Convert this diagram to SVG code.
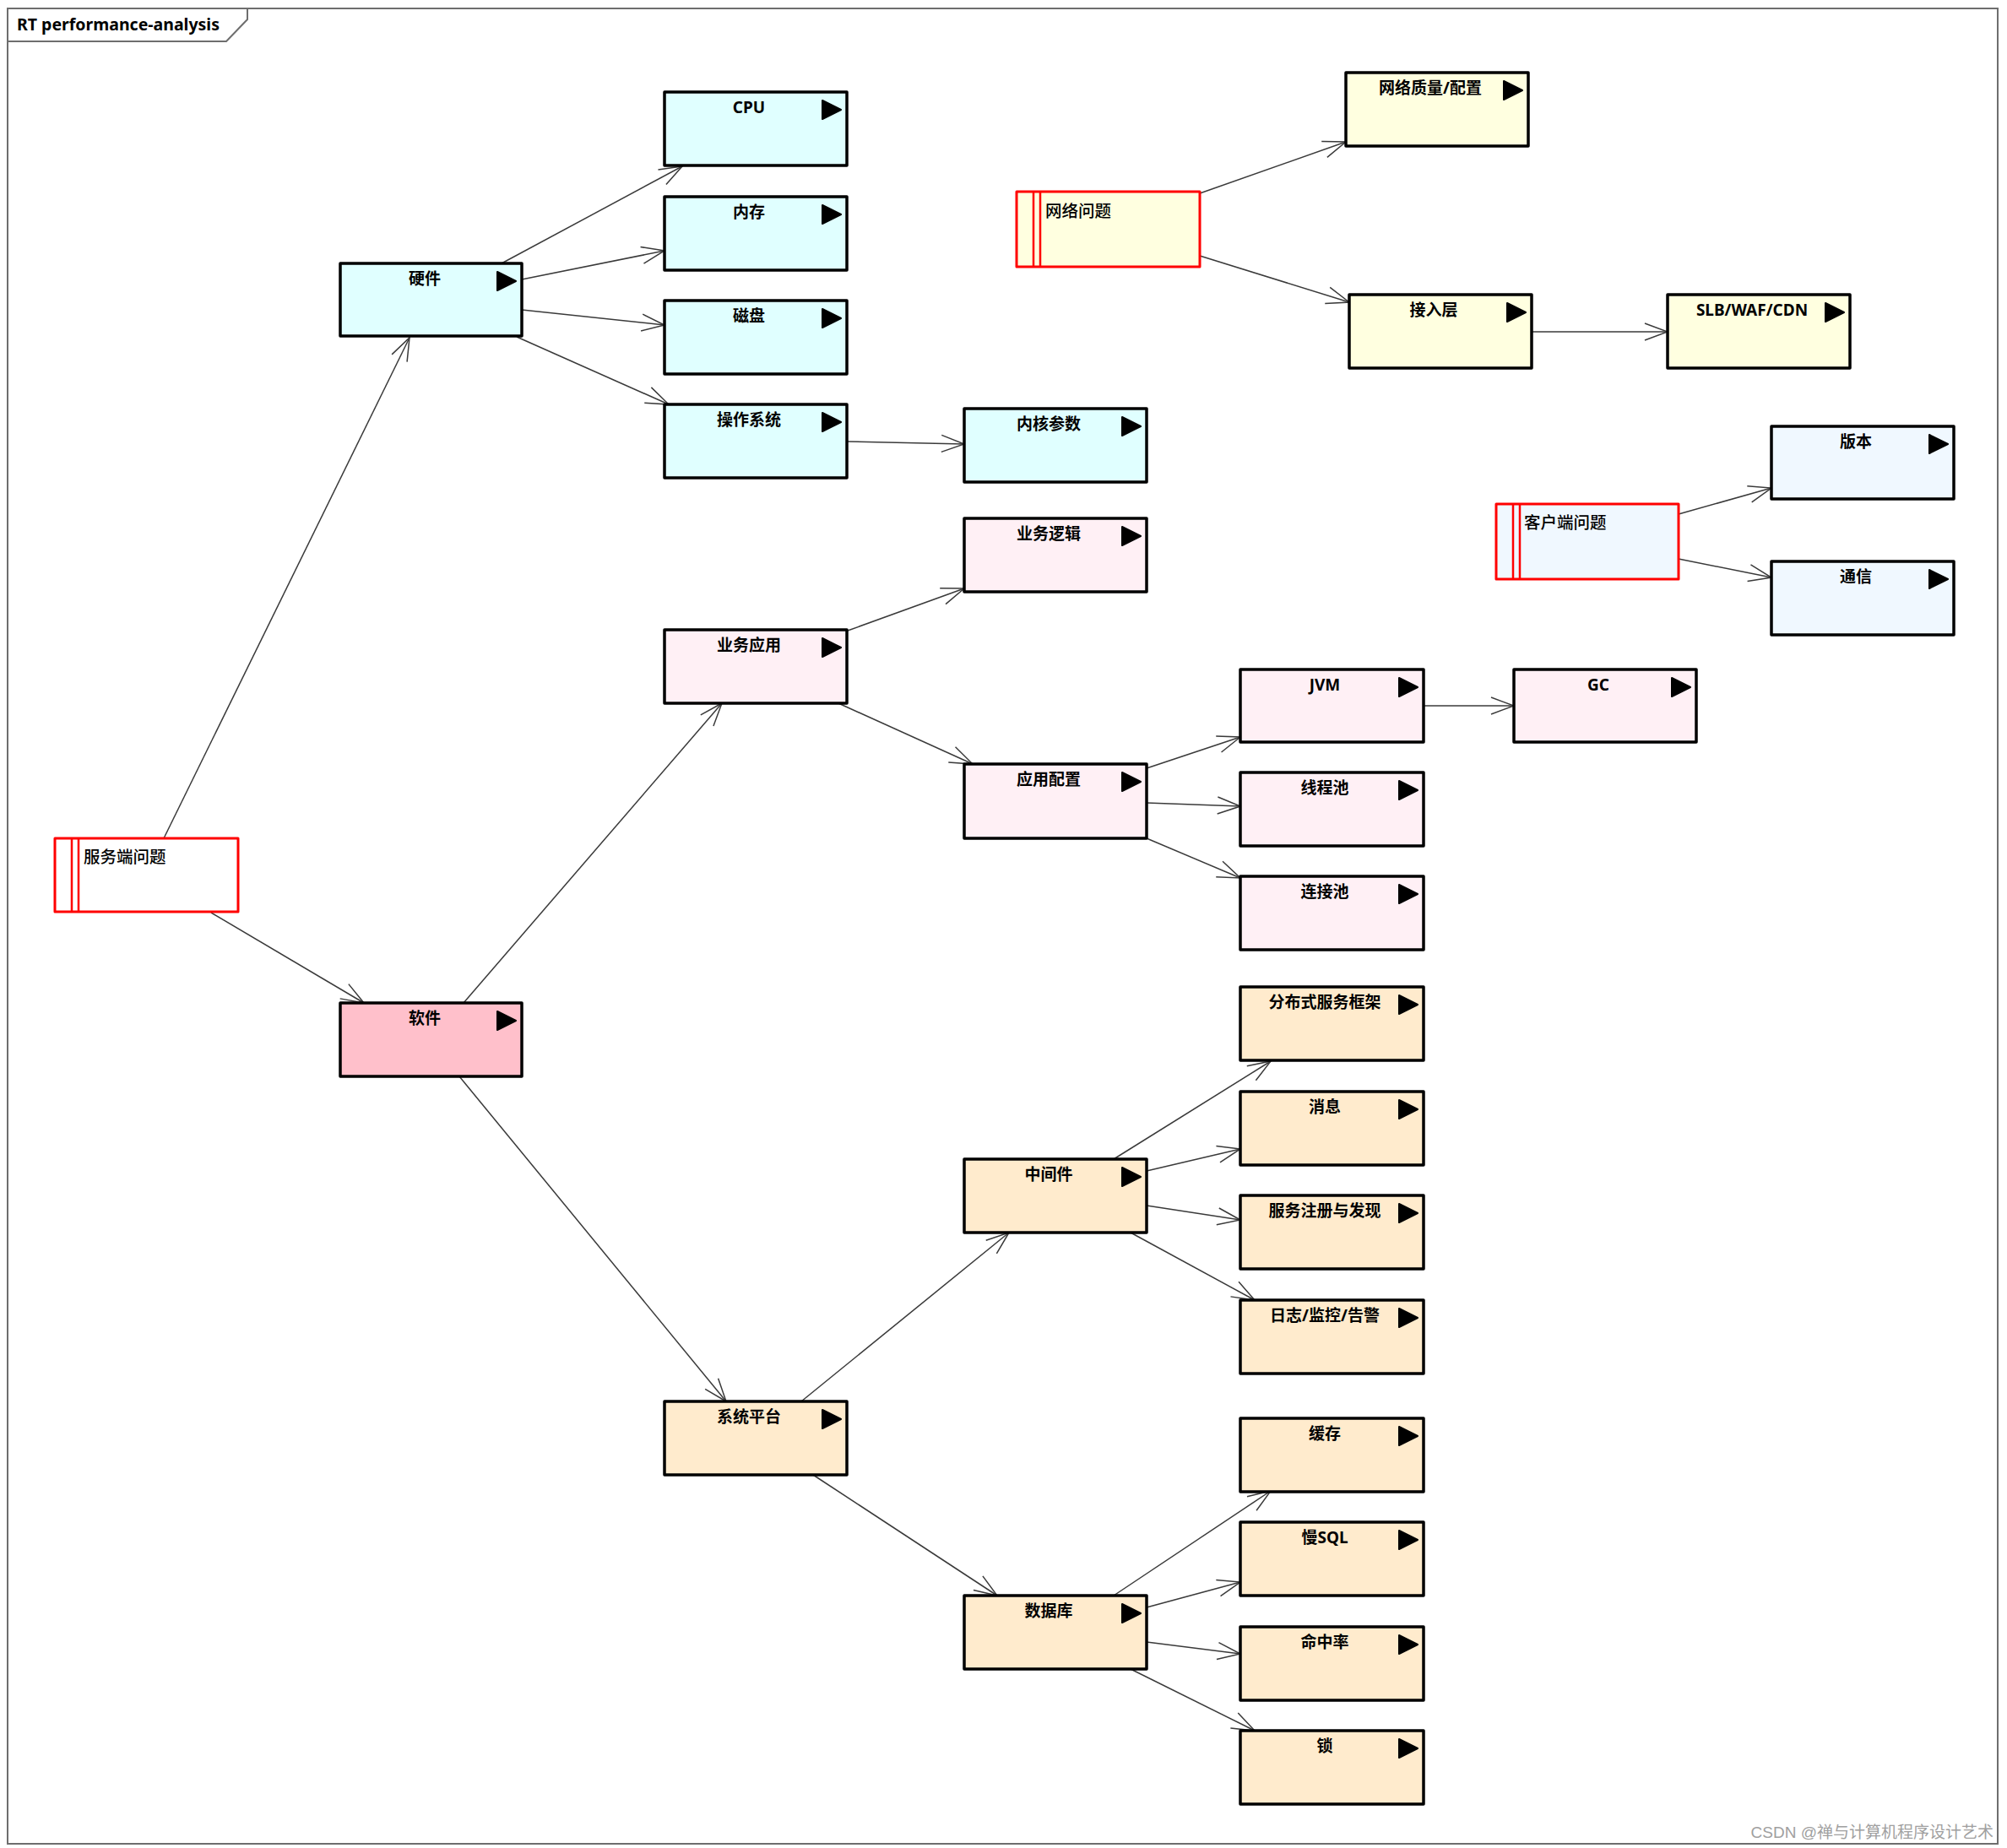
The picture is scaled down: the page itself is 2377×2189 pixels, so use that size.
<svg xmlns="http://www.w3.org/2000/svg" xmlns:xlink="http://www.w3.org/1999/xlink" width="2377" height="2189" viewBox="0 0 2377 2189">
<style>
.frame{fill:none;stroke:#6e6e6e;stroke-width:2}
.box{stroke:#000;stroke-width:3.5;stroke-linejoin:round}
.red{stroke:#ff0000;stroke-width:3;stroke-linejoin:round}
.redl{stroke:#ff0000;stroke-width:2.5}
.hw{fill:#e0ffff}
.sw{fill:#fff0f5}
.swm{fill:#ffc0cb}
.pf{fill:#ffebcd}
.nw{fill:#ffffe0}
.cl{fill:#f0f8ff}
.wh{fill:#ffffff}
.lbl{font-family:"Noto Sans","Noto Sans CJK SC",sans-serif;font-size:19px;font-weight:bold;fill:#000;text-anchor:middle}
.rlbl{font-family:"Noto Sans","Noto Sans CJK SC",sans-serif;font-size:19.5px;font-weight:500;fill:#000}
.title{font-family:"Noto Sans","Noto Sans CJK SC",sans-serif;font-size:19.5px;font-weight:bold;fill:#000}
.wm{font-family:"Liberation Sans","Noto Sans CJK SC",sans-serif;font-size:19px;fill:#a0a0a0}
.conn line{stroke:#3a3a3a;stroke-width:1.5;marker-end:url(#arr)}
</style>
<defs>
<marker id="arr" markerUnits="userSpaceOnUse" markerWidth="32" markerHeight="26" viewBox="-30 -13 32 26" refX="0" refY="0" orient="auto">
<path d="M-27,-10 L0,0 L-27,10" fill="none" stroke="#3a3a3a" stroke-width="1.5"/>
</marker>
<path id="tri" d="M1,1 L23,12 L1,23 Z" fill="#000" stroke="#000" stroke-width="2" stroke-linejoin="round"/>
</defs>
<rect width="2377" height="2189" fill="#ffffff"/>
<g id="frame">
<rect class="frame" x="9" y="10" width="2357" height="2174"/>
<path class="frame" d="M9,49 L268,49 L293,23 L293,10"/>
<text class="title" x="20" y="36">RT performance-analysis</text>
</g>
<g class="conn" id="connectors">
<line x1="194" y1="993" x2="485" y2="400"/>
<line x1="250" y1="1081" x2="431" y2="1188"/>
<line x1="594" y1="312" x2="808" y2="197"/>
<line x1="618" y1="331" x2="787" y2="297"/>
<line x1="618" y1="367" x2="787" y2="385"/>
<line x1="612" y1="399" x2="792" y2="479"/>
<line x1="1004" y1="523" x2="1142" y2="526"/>
<line x1="549" y1="1188" x2="855" y2="833"/>
<line x1="544" y1="1275" x2="860" y2="1660"/>
<line x1="1004" y1="747" x2="1142" y2="697"/>
<line x1="993" y1="833" x2="1152" y2="905"/>
<line x1="1358" y1="910" x2="1469" y2="873"/>
<line x1="1358" y1="951" x2="1469" y2="955"/>
<line x1="1358" y1="993" x2="1469" y2="1040"/>
<line x1="1686" y1="836" x2="1793" y2="836"/>
<line x1="949" y1="1660" x2="1195" y2="1460"/>
<line x1="963" y1="1747" x2="1181" y2="1890"/>
<line x1="1319" y1="1373" x2="1505" y2="1257"/>
<line x1="1358" y1="1387" x2="1469" y2="1361"/>
<line x1="1358" y1="1428" x2="1469" y2="1445"/>
<line x1="1339" y1="1460" x2="1486" y2="1540"/>
<line x1="1319" y1="1890" x2="1505" y2="1766"/>
<line x1="1358" y1="1904" x2="1469" y2="1874"/>
<line x1="1358" y1="1945" x2="1469" y2="1959"/>
<line x1="1339" y1="1977" x2="1486" y2="2050"/>
<line x1="1421" y1="229" x2="1594" y2="168"/>
<line x1="1421" y1="303" x2="1598" y2="358"/>
<line x1="1814" y1="393" x2="1975" y2="393"/>
<line x1="1988" y1="609" x2="2098" y2="578"/>
<line x1="1988" y1="662" x2="2098" y2="684"/>
</g>
<g id="n-server">
<rect class="red wh" x="65" y="993" width="217" height="87"/>
<line class="redl" x1="85" y1="993" x2="85" y2="1080"/>
<line class="redl" x1="93" y1="993" x2="93" y2="1080"/>
<text class="rlbl" x="99" y="1022">服务端问题</text>
</g>
<g id="n-hw">
<rect class="box hw" x="403" y="312" width="215" height="86"/>
<text class="lbl" x="503" y="337">硬件</text>
<use xlink:href="#tri" x="588" y="321"/>
</g>
<g id="n-sw">
<rect class="box swm" x="403" y="1188" width="215" height="87"/>
<text class="lbl" x="503" y="1213">软件</text>
<use xlink:href="#tri" x="588" y="1197"/>
</g>
<g id="n-cpu">
<rect class="box hw" x="787" y="109" width="216" height="87"/>
<text class="lbl" x="887" y="134">CPU</text>
<use xlink:href="#tri" x="973" y="118"/>
</g>
<g id="n-mem">
<rect class="box hw" x="787" y="233" width="216" height="87"/>
<text class="lbl" x="887" y="258">内存</text>
<use xlink:href="#tri" x="973" y="242"/>
</g>
<g id="n-disk">
<rect class="box hw" x="787" y="356" width="216" height="87"/>
<text class="lbl" x="887" y="381">磁盘</text>
<use xlink:href="#tri" x="973" y="365"/>
</g>
<g id="n-os">
<rect class="box hw" x="787" y="479" width="216" height="87"/>
<text class="lbl" x="887" y="504">操作系统</text>
<use xlink:href="#tri" x="973" y="488"/>
</g>
<g id="n-kernel">
<rect class="box hw" x="1142" y="484" width="216" height="87"/>
<text class="lbl" x="1242" y="509">内核参数</text>
<use xlink:href="#tri" x="1328" y="493"/>
</g>
<g id="n-bizapp">
<rect class="box sw" x="787" y="746" width="216" height="87"/>
<text class="lbl" x="887" y="771">业务应用</text>
<use xlink:href="#tri" x="973" y="755"/>
</g>
<g id="n-bizlogic">
<rect class="box sw" x="1142" y="614" width="216" height="87"/>
<text class="lbl" x="1242" y="639">业务逻辑</text>
<use xlink:href="#tri" x="1328" y="623"/>
</g>
<g id="n-appcfg">
<rect class="box sw" x="1142" y="905" width="216" height="88"/>
<text class="lbl" x="1242" y="930">应用配置</text>
<use xlink:href="#tri" x="1328" y="914"/>
</g>
<g id="n-jvm">
<rect class="box sw" x="1469" y="793" width="217" height="86"/>
<text class="lbl" x="1569" y="818">JVM</text>
<use xlink:href="#tri" x="1656" y="802"/>
</g>
<g id="n-gc">
<rect class="box sw" x="1793" y="793" width="216" height="86"/>
<text class="lbl" x="1893" y="818">GC</text>
<use xlink:href="#tri" x="1979" y="802"/>
</g>
<g id="n-threadpool">
<rect class="box sw" x="1469" y="915" width="217" height="87"/>
<text class="lbl" x="1569" y="940">线程池</text>
<use xlink:href="#tri" x="1656" y="924"/>
</g>
<g id="n-connpool">
<rect class="box sw" x="1469" y="1038" width="217" height="87"/>
<text class="lbl" x="1569" y="1063">连接池</text>
<use xlink:href="#tri" x="1656" y="1047"/>
</g>
<g id="n-platform">
<rect class="box pf" x="787" y="1660" width="216" height="87"/>
<text class="lbl" x="887" y="1685">系统平台</text>
<use xlink:href="#tri" x="973" y="1669"/>
</g>
<g id="n-middleware">
<rect class="box pf" x="1142" y="1373" width="216" height="87"/>
<text class="lbl" x="1242" y="1398">中间件</text>
<use xlink:href="#tri" x="1328" y="1382"/>
</g>
<g id="n-db">
<rect class="box pf" x="1142" y="1890" width="216" height="87"/>
<text class="lbl" x="1242" y="1915">数据库</text>
<use xlink:href="#tri" x="1328" y="1899"/>
</g>
<g id="n-rpc">
<rect class="box pf" x="1469" y="1169" width="217" height="87"/>
<text class="lbl" x="1569" y="1194">分布式服务框架</text>
<use xlink:href="#tri" x="1656" y="1178"/>
</g>
<g id="n-mq">
<rect class="box pf" x="1469" y="1293" width="217" height="87"/>
<text class="lbl" x="1569" y="1318">消息</text>
<use xlink:href="#tri" x="1656" y="1302"/>
</g>
<g id="n-registry">
<rect class="box pf" x="1469" y="1416" width="217" height="87"/>
<text class="lbl" x="1569" y="1441">服务注册与发现</text>
<use xlink:href="#tri" x="1656" y="1425"/>
</g>
<g id="n-log">
<rect class="box pf" x="1469" y="1540" width="217" height="87"/>
<text class="lbl" x="1569" y="1565">日志/监控/告警</text>
<use xlink:href="#tri" x="1656" y="1549"/>
</g>
<g id="n-cache">
<rect class="box pf" x="1469" y="1680" width="217" height="87"/>
<text class="lbl" x="1569" y="1705">缓存</text>
<use xlink:href="#tri" x="1656" y="1689"/>
</g>
<g id="n-slowsql">
<rect class="box pf" x="1469" y="1803" width="217" height="87"/>
<text class="lbl" x="1569" y="1828">慢SQL</text>
<use xlink:href="#tri" x="1656" y="1812"/>
</g>
<g id="n-hitrate">
<rect class="box pf" x="1469" y="1927" width="217" height="87"/>
<text class="lbl" x="1569" y="1952">命中率</text>
<use xlink:href="#tri" x="1656" y="1936"/>
</g>
<g id="n-lock">
<rect class="box pf" x="1469" y="2050" width="217" height="87"/>
<text class="lbl" x="1569" y="2075">锁</text>
<use xlink:href="#tri" x="1656" y="2059"/>
</g>
<g id="n-network">
<rect class="red nw" x="1204" y="227" width="217" height="89"/>
<line class="redl" x1="1224" y1="227" x2="1224" y2="316"/>
<line class="redl" x1="1232" y1="227" x2="1232" y2="316"/>
<text class="rlbl" x="1238" y="257">网络问题</text>
</g>
<g id="n-netq">
<rect class="box nw" x="1594" y="86" width="216" height="87"/>
<text class="lbl" x="1694" y="111">网络质量/配置</text>
<use xlink:href="#tri" x="1780" y="95"/>
</g>
<g id="n-access">
<rect class="box nw" x="1598" y="349" width="216" height="87"/>
<text class="lbl" x="1698" y="374">接入层</text>
<use xlink:href="#tri" x="1784" y="358"/>
</g>
<g id="n-slb">
<rect class="box nw" x="1975" y="349" width="216" height="87"/>
<text class="lbl" x="2075" y="374">SLB/WAF/CDN</text>
<use xlink:href="#tri" x="2161" y="358"/>
</g>
<g id="n-client">
<rect class="red cl" x="1772" y="597" width="216" height="89"/>
<line class="redl" x1="1792" y1="597" x2="1792" y2="686"/>
<line class="redl" x1="1800" y1="597" x2="1800" y2="686"/>
<text class="rlbl" x="1805" y="626">客户端问题</text>
</g>
<g id="n-version">
<rect class="box cl" x="2098" y="505" width="216" height="86"/>
<text class="lbl" x="2198" y="530">版本</text>
<use xlink:href="#tri" x="2284" y="514"/>
</g>
<g id="n-comm">
<rect class="box cl" x="2098" y="665" width="216" height="87"/>
<text class="lbl" x="2198" y="690">通信</text>
<use xlink:href="#tri" x="2284" y="674"/>
</g>
<text class="wm" x="2361" y="2177" text-anchor="end">CSDN @禅与计算机程序设计艺术</text>
</svg>
